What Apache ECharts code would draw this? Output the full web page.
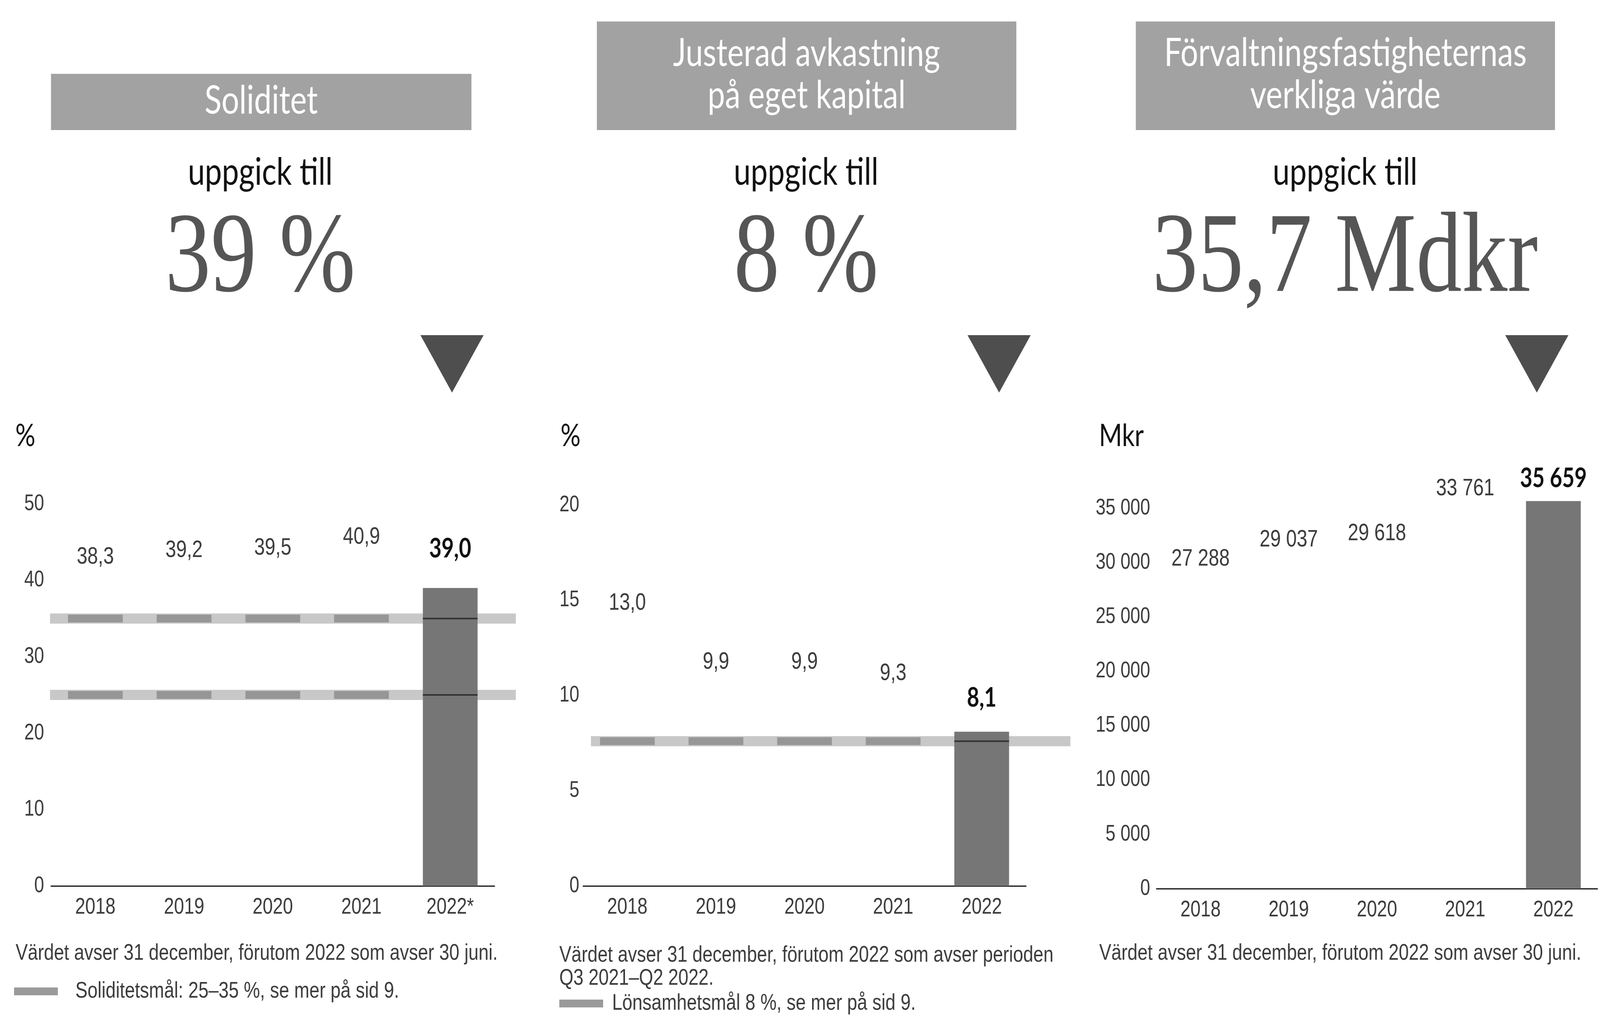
<!DOCTYPE html>
<html>
<head>
<meta charset="utf-8">
<script src="https://cdn.jsdelivr.net/npm/echarts@6/dist/echarts.min.js"></script>
<style>
html,body{margin:0;padding:0;background:#fff;overflow:hidden;}
#wrap{position:relative;overflow:hidden;}
#c{position:absolute;left:0;top:0;width:5115px;height:2601px;transform-origin:0 0;}
</style>
</head>
<body>
<div id="wrap"><div id="c"></div></div>
<script>
// ---------- DATA ----------
const cats1 = ['2018', '2019', '2020', '2021', '2022*'];
const soliditet = [38.3, 39.2, 39.5, 40.9, 39.0];
const soliditetTargets = [25, 35];

const cats2 = ['2018', '2019', '2020', '2021', '2022'];
const avkastning = [13.0, 9.9, 9.9, 9.3, 8.1];
const avkastningTargets = [7.6];

const cats3 = ['2018', '2019', '2020', '2021', '2022'];
const fastigheter = [27288, 29037, 29618, 33761, 35659];

const yMax = [50, 20, 35000];
const yInterval = [10, 5, 5000];

const headers = ['Soliditet', 'Justerad avkastning\npå eget kapital', 'Förvaltningsfastigheternas\nverkliga värde'];
const bigValues = ['39 %', '8 %', '35,7 Mdkr'];
const units = ['%', '%', 'Mkr'];
const notes = [
  ['Värdet avser 31 december, förutom 2022 som avser 30 juni.'],
  ['Värdet avser 31 december, förutom 2022 som avser perioden', 'Q3 2021–Q2 2022.'],
  ['Värdet avser 31 december, förutom 2022 som avser 30 juni.']
];
const legendTexts = ['Soliditetsmål: 25–35 %, se mer på sid 9.', 'Lönsamhetsmål 8 %, se mer på sid 9.'];

// ---------- FIT THE 5115x2601 DESIGN TO THE ACTUAL WINDOW ----------
const wrap = document.getElementById('wrap');
const box = document.getElementById('c');
const sx = window.innerWidth / 5115, sy = window.innerHeight / 2601;
wrap.style.width = window.innerWidth + 'px';
wrap.style.height = window.innerHeight + 'px';
box.style.transform = 'scale(' + sx + ',' + sy + ')';

// ---------- STYLE / LAYOUT ----------
const NARROW = "'Liberation Sans Narrow','Liberation Sans',sans-serif";
const LATO = "Lato,'Noto Sans',sans-serif";
const SERIF = "'Liberation Serif','DejaVu Serif',serif";
const TXT = '#3c3c3c';

const dec1 = v => v.toFixed(1).replace('.', ',');
const thou = v => String(v).replace(/\B(?=(\d{3})+(?!\d))/g, ' ');

const panels = [
  { cats: cats1, vals: soliditet, targets: soliditetTargets, fmt: dec1, yfmt: v => String(v),
    grid: { left: 163, width: 1418, top: 1290, bottom: 333 }, tgrid: { left: 160, width: 1489 },
    labelMargin: 22, dist: 62, boldDist: 66, cx: 832, tri: 1445, headerBox: [163, 189, 1344, 144], headerY: [259],
    unitX: 49, noteX: 50 },
  { cats: cats2, vals: avkastning, targets: avkastningTargets, fmt: dec1, yfmt: v => String(v),
    grid: { left: 1864, width: 1416, top: 1293, bottom: 333 }, tgrid: { left: 1889, width: 1533 },
    labelMargin: 12, dist: 60, boldDist: 52, cx: 2577, tri: 3194, headerBox: [1908, 55, 1341, 278], headerY: [137, 245],
    unitX: 1792, noteX: 1788 },
  { cats: cats3, vals: fastigheter, targets: [], fmt: thou, yfmt: v => thou(v),
    grid: { left: 3697, width: 1410, top: 1301, bottom: 326 }, tgrid: null,
    labelMargin: 20, dist: 54, boldDist: 24, cx: 4300, tri: 4913, headerBox: [3631, 55, 1340, 278], headerY: [137, 245],
    unitX: 3513, noteX: 3514 }
];

const grids = [], xAxes = [], yAxes = [], series = [], graphics = [];

panels.forEach((p, k) => {
  grids.push(Object.assign({ containLabel: false }, p.grid));
  xAxes.push({
    type: 'category', gridIndex: k, data: p.cats,
    axisLine: { show: true, lineStyle: { color: '#111', width: 3 } },
    axisTick: { show: false },
    axisLabel: { fontFamily: NARROW, fontSize: 58, color: TXT, margin: 26 }
  });
  yAxes.push({
    type: 'value', gridIndex: k, min: 0, max: yMax[k], interval: yInterval[k],
    axisLine: { show: false }, axisTick: { show: false }, splitLine: { show: false },
    axisLabel: { fontFamily: NARROW, fontSize: 57, color: TXT, margin: p.labelMargin, formatter: p.yfmt }
  });
});

// hidden grids for the wide target bands
const tIdx = {};
panels.forEach((p, k) => {
  if (!p.tgrid) return;
  const gi = grids.length;
  tIdx[k] = gi;
  grids.push({ left: p.tgrid.left, width: p.tgrid.width, top: p.grid.top, bottom: p.grid.bottom });
  xAxes.push({ type: 'value', gridIndex: gi, min: 0, max: 1, show: false });
  yAxes.push({ type: 'value', gridIndex: gi, min: 0, max: yMax[k], show: false });
});

panels.forEach((p, k) => {
  const last = p.vals.length - 1;
  p.targets.forEach(t => {
    series.push({
      type: 'line', xAxisIndex: tIdx[k], yAxisIndex: tIdx[k], silent: true, z: 1,
      symbol: 'none', data: [[0, t], [1, t]],
      lineStyle: { color: '#c8c8c8', width: 26 }
    });
  });
  series.push({
    type: 'bar', xAxisIndex: k, yAxisIndex: k, barWidth: 175, clip: false, z: 3, silent: true,
    data: p.vals.map((v, i) => ({
      value: v,
      itemStyle: { color: i === last ? '#767676' : 'rgba(0,0,0,0)' },
      label: {
        show: true, position: 'top', formatter: p.fmt(v),
        distance: i === last ? p.boldDist : p.dist,
        fontFamily: i === last ? LATO : NARROW,
        fontWeight: i === last ? 'bold' : 'normal',
        fontSize: i === last ? 68 : 61,
        color: i === last ? '#111' : TXT
      }
    }))
  });
  if (p.targets.length) {
    const segs = [];
    p.targets.forEach(t => {
      p.cats.forEach((c, i) => {
        segs.push({
          value: [i, t],
          symbolSize: i === last ? [175, 4] : [175, 20],
          itemStyle: { color: i === last ? '#222' : '#8a8a8a' }
        });
      });
    });
    series.push({
      type: 'scatter', xAxisIndex: k, yAxisIndex: k, symbol: 'rect', silent: true, z: 5,
      data: segs
    });
  }
});

// ---------- GRAPHICS ----------
const headerSize = [100, 99, 100];
panels.forEach((p, k) => {
  const b = p.headerBox;
  graphics.push({ type: 'rect', shape: { x: b[0], y: b[1], width: b[2], height: b[3] }, style: { fill: '#a2a2a2' }, z: 1 });
  headers[k].split('\n').forEach((line, j) => {
    graphics.push({ type: 'text', z: 2, style: {
      text: line, x: b[0] + b[2] / 2, y: p.headerY[j], align: 'center', verticalAlign: 'middle',
      fill: '#fff', font: headerSize[k] + "px " + LATO } });
  });
  graphics.push({ type: 'text', z: 2, style: {
    text: 'uppgick till', x: p.cx, y: 442, align: 'center', verticalAlign: 'middle',
    fill: '#111', font: "97px " + LATO } });
  graphics.push({ type: 'text', z: 2, style: {
    text: bigValues[k], x: p.cx, y: 668, align: 'center', verticalAlign: 'middle',
    fill: '#555', font: "292px " + SERIF } });
  graphics.push({ type: 'polygon', z: 2, shape: { points: [[p.tri - 101, 858], [p.tri + 101, 858], [p.tri, 1005]] },
    style: { fill: '#4e4e4e' } });
  graphics.push({ type: 'text', z: 2, style: {
    text: units[k], x: p.unitX, y: 1116, align: 'left', verticalAlign: 'middle',
    fill: '#111', font: "80px " + LATO } });
  const noteYs = k === 1 ? [2446, 2505] : [2441];
  notes[k].forEach((line, j) => {
    graphics.push({ type: 'text', z: 2, style: {
      text: line, x: p.noteX, y: noteYs[j], align: 'left', verticalAlign: 'middle',
      fill: TXT, font: "58px " + NARROW } });
  });
});
[[45, 2538, legendTexts[0], 241], [1788, 2569, legendTexts[1], 1957]].forEach(([x, y, t, tx]) => {
  graphics.push({ type: 'rect', shape: { x: x, y: y - 10, width: 140, height: 20 }, style: { fill: '#9a9a9a' }, z: 2 });
  graphics.push({ type: 'text', z: 2, style: { text: t, x: tx, y: y, align: 'left', verticalAlign: 'middle', fill: TXT, font: "58px " + NARROW } });
});

const chart = echarts.init(box, null, { renderer: 'canvas', width: 5115, height: 2601 });
chart.setOption({
  backgroundColor: '#ffffff',
  animation: false,
  grid: grids,
  xAxis: xAxes,
  yAxis: yAxes,
  series: series,
  graphic: graphics
});
</script>
</body>
</html>
